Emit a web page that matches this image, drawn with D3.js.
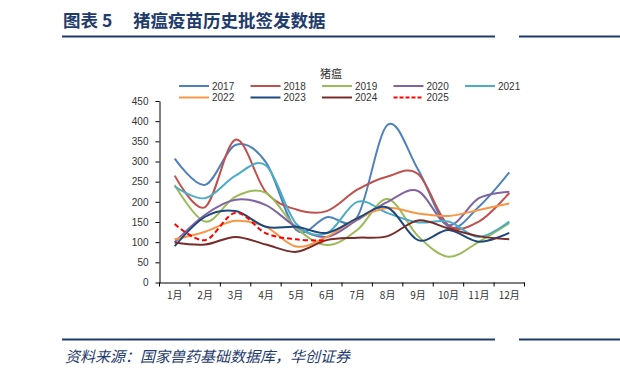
<!DOCTYPE html>
<html lang="zh">
<head>
  <meta charset="UTF-8">
  <title>猪瘟疫苗历史批签发数据</title>
  <script src="https://d3js.org/d3.v7.min.js"></script>
  <style>
    body { margin: 0; background: #fff; }
    svg { display: block; font-family: "Liberation Sans", Arial, sans-serif; }
  </style>
</head>
<body>
  <svg id="chart" width="620" height="380"></svg>
  <script>
    const months = ["1月", "2月", "3月", "4月", "5月", "6月", "7月", "8月", "9月", "10月", "11月", "12月"];
    const yTicks = [0, 50, 100, 150, 200, 250, 300, 350, 400, 450];

    const years = ["2017", "2018", "2019", "2020", "2021", "2022", "2023", "2024", "2025"];
    const v2017 = [307, 242, 341, 298, 130, 162, 162, 391, 280, 138, 188, 273];
    const v2018 = [265, 187, 354, 224, 181, 177, 230, 263, 269, 142, 151, 222];
    const v2019 = [242, 151, 213, 222, 135, 93, 130, 207, 115, 64, 101, 147];
    const v2020 = [100, 168, 205, 192, 138, 113, 155, 200, 227, 142, 209, 225];
    const v2021 = [238, 209, 265, 290, 145, 122, 200, 172, 149, 151, 113, 151];
    const v2022 = [107, 126, 153, 138, 89, 113, 159, 185, 171, 165, 180, 196];
    const v2023 = [90, 163, 177, 138, 138, 123, 159, 186, 105, 130, 101, 123];
    const v2024 = [99, 94, 113, 94, 76, 105, 111, 115, 154, 134, 115, 107];
    const v2025 = [145, 105, 173, 122, 107, 104];
    const values = [v2017, v2018, v2019, v2020, v2021, v2022, v2023, v2024, v2025];

    const colors = ["#4F81BD", "#C0504D", "#9BBB59", "#8064A2", "#4BACC6", "#F79646", "#1F497D", "#772C2A", "#FF0000"];

    const svg = d3.select("#chart");
    const navy = "#1F3C6E";

    // header
    const head = svg.append("text")
      .attr("y", 27)
      .attr("font-family", "'Noto Sans CJK SC', sans-serif")
      .attr("font-weight", "bold")
      .attr("font-size", 17.5)
      .attr("fill", navy);
    head.append("tspan").attr("x", 63).text("图表 5");
    head.append("tspan").attr("x", 133).text("猪瘟疫苗历史批签发数据");

    [[62, 495], [519, 620]].forEach(([a, b]) => {
      svg.append("line").attr("x1", a).attr("x2", b).attr("y1", 36.5).attr("y2", 36.5)
        .attr("stroke", navy).attr("stroke-width", 2);
      svg.append("line").attr("x1", a).attr("x2", b).attr("y1", 339.5).attr("y2", 339.5)
        .attr("stroke", navy).attr("stroke-width", 2);
    });
    svg.append("text")
      .attr("x", 65).attr("y", 362)
      .attr("font-family", "'Noto Sans CJK SC', sans-serif")
      .attr("font-style", "italic")
      .attr("font-size", 15)
      .attr("fill", navy)
      .text("资料来源：国家兽药基础数据库，华创证券");

    // plot
    const x = d3.scaleBand().domain(months).range([159.5, 524.5]);
    const y = d3.scaleLinear().domain([0, 450]).range([282.5, 101]);

    const yAxis = svg.append("g")
      .attr("transform", "translate(159.5,0)")
      .call(d3.axisLeft(y).tickValues(yTicks).tickSize(4).tickSizeOuter(0).tickPadding(7));
    yAxis.select(".domain").attr("stroke", "#000");
    yAxis.selectAll("line").attr("stroke", "#000");
    yAxis.selectAll("text").attr("font-size", 10).attr("fill", "#333");

    const xAxis = svg.append("g")
      .attr("transform", "translate(0,282.5)")
      .call(d3.axisBottom(x).tickSize(0).tickPadding(9));
    xAxis.select(".domain").attr("stroke", "#000");
    xAxis.selectAll("text").attr("font-size", 10).attr("fill", "#333")
      .attr("font-family", "'Noto Sans CJK SC', sans-serif");
    // ticks between categories
    xAxis.selectAll(".sep")
      .data(months.concat(["end"]))
      .enter().append("line")
      .attr("class", "sep")
      .attr("x1", (d, i) => x.range()[0] + i * x.step())
      .attr("x2", (d, i) => x.range()[0] + i * x.step())
      .attr("y1", 0).attr("y2", 4)
      .attr("stroke", "#000");

    const line = d3.line()
      .x((d, i) => x(months[i]) + x.bandwidth() / 2)
      .y(d => y(d))
      .curve(d3.curveCatmullRom.alpha(0));

    svg.append("g").selectAll("path")
      .data(values)
      .enter().append("path")
      .attr("d", d => line(d))
      .attr("fill", "none")
      .attr("stroke", (d, i) => colors[i])
      .attr("stroke-width", 2)
      .attr("stroke-dasharray", (d, i) => years[i] === "2025" ? "5,3" : null);

    // legend
    svg.append("text")
      .attr("x", 331).attr("y", 78)
      .attr("text-anchor", "middle")
      .attr("font-family", "'Noto Sans CJK SC', sans-serif")
      .attr("font-size", 11)
      .attr("fill", "#333")
      .text("猪瘟");

    const legend = svg.append("g").selectAll("g")
      .data(years)
      .enter().append("g")
      .attr("transform", (d, i) => `translate(${179 + (i % 5) * 71.5},${i < 5 ? 86 : 97.5})`);
    legend.append("line")
      .attr("x1", 0).attr("x2", 30)
      .attr("stroke", (d, i) => colors[i])
      .attr("stroke-width", 2)
      .attr("stroke-dasharray", d => d === "2025" ? "4,2" : null);
    legend.append("text")
      .attr("x", 33).attr("y", 3.5)
      .attr("font-size", 10)
      .attr("fill", "#333")
      .text(d => d);
  </script>
</body>
</html>
